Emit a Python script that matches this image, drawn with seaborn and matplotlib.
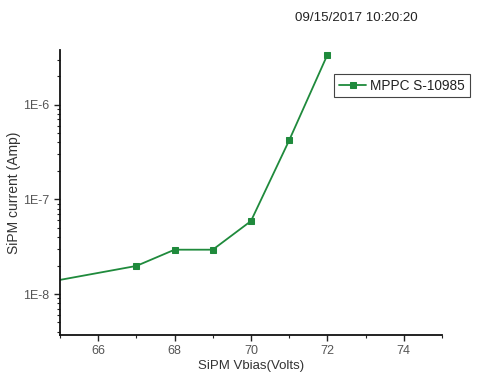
import matplotlib
matplotlib.use("Agg")
import matplotlib.pyplot as plt
import matplotlib.ticker as mticker
import seaborn as sns
import pandas as pd

vbias = [64, 67, 68, 69, 70, 71, 72]
current = [1.19e-8, 1.98e-8, 2.94e-8, 2.94e-8, 5.9e-8, 4.2e-7, 3.36e-6]
series_name = "MPPC S-10985"
x_ticks = [66, 68, 70, 72, 74]

sns.set_style("ticks")
plt.rcParams['font.family'] = ['Liberation Sans', 'DejaVu Sans']

df = pd.DataFrame({"Vbias": vbias, "Current": current, "Series": series_name})

fig = plt.figure(figsize=(4.84, 3.75), dpi=100)
ax = fig.add_axes([0.124, 0.107, 0.789, 0.76])
green = "#1f8a3c"
sns.lineplot(data=df, x="Vbias", y="Current", hue="Series", palette=[green],
             marker="s", markersize=5, markeredgecolor=green, linewidth=1.3, ax=ax)
ax.set_yscale("log")
ax.set_xlim(65, 75)
ax.set_ylim(3.7e-9, 3.8e-6)
ax.set_xticks(x_ticks)
ax.xaxis.set_minor_locator(mticker.MultipleLocator(1))
ax.set_yticks([1e-8, 1e-7, 1e-6])
ax.set_yticklabels(["1E-8", "1E-7", "1E-6"])
ax.yaxis.set_minor_locator(mticker.LogLocator(base=10, subs=range(2, 10)))
ax.yaxis.set_minor_formatter(mticker.NullFormatter())
ax.tick_params(axis='both', which='major', direction='out', length=4, width=1, colors='#222', labelcolor='#555', labelsize=9)
ax.tick_params(axis='both', which='minor', direction='out', length=2, width=0.8, colors='#222')
for s in ['left', 'bottom']:
    ax.spines[s].set_linewidth(1.3)
    ax.spines[s].set_color('#111')
sns.despine(ax=ax)
ax.set_xlabel("SiPM Vbias(Volts)", fontsize=9.5, color='#333', labelpad=2)
ax.set_ylabel("SiPM current (Amp)", fontsize=10, color='#333', labelpad=2)

leg = ax.legend(loc='upper left', bbox_to_anchor=(0.70, 0.94), fontsize=9.8,
                frameon=True, fancybox=False, edgecolor='#444', framealpha=1,
                handlelength=2.0, borderpad=0.35, handletextpad=0.3)
leg.get_frame().set_linewidth(0.8)
for t in leg.get_texts():
    t.set_color('#222')

fig.text(0.61, 0.952, "09/15/2017 10:20:20", fontsize=9.6, color='#222', ha='left', va='center')

fig.savefig("out.png", dpi=100)
